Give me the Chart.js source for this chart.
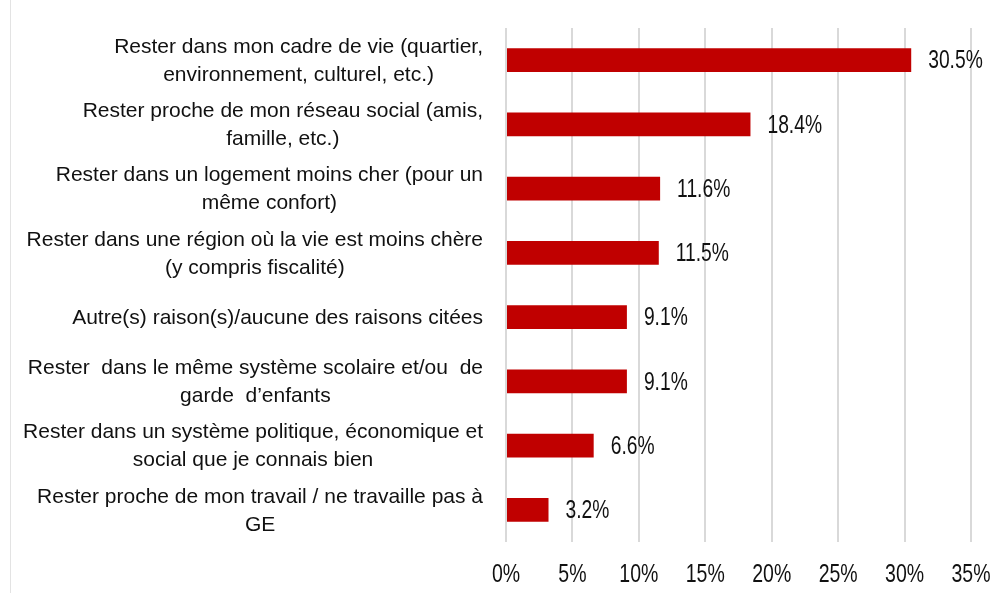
<!DOCTYPE html>
<html>
<head>
<meta charset="utf-8">
<script src="https://cdn.jsdelivr.net/npm/chart.js@4/dist/chart.umd.min.js"></script>
<style>
  body { margin: 0; background: #fff; }
  #wrap { position: relative; width: 995px; height: 593px; }
  #edge { position: absolute; left: 10px; top: 0; width: 1px; height: 593px; background: #e3e3e3; }
</style>
</head>
<body>
<div id="wrap">
  <div id="edge"></div>
  <canvas id="chart1" width="995" height="593"></canvas>
</div>
<script>
// raisons (une ligne par élément du tableau)
const categories = [
    ['Rester dans mon cadre de vie (quartier,', 'environnement, culturel, etc.)'],
    ['Rester proche de mon réseau social (amis,', 'famille, etc.)'],
    ['Rester dans un logement moins cher (pour un', 'même confort)'],
    ['Rester dans une région où la vie est moins chère', '(y compris fiscalité)'],
    ['Autre(s) raison(s)/aucune des raisons citées'],
    ['Rester  dans le même système scolaire et/ou  de', 'garde  d’enfants'],
    ['Rester dans un système politique, économique et', 'social que je connais bien'],
    ['Rester proche de mon travail / ne travaille pas à', 'GE']
];
const values = [30.5, 18.4, 11.6, 11.5, 9.1, 9.1, 6.6, 3.2];
const valueLabels = ['30.5%', '18.4%', '11.6%', '11.5%', '9.1%', '9.1%', '6.6%', '3.2%'];
const xTicks = [0, 5, 10, 15, 20, 25, 30, 35];
const xTickLabels = ['0%', '5%', '10%', '15%', '20%', '25%', '30%', '35%'];

const FONT = '"Liberation Sans", Arial, sans-serif';

// dessine les libellés, les valeurs et les graduations
const textPlugin = {
    id: 'texts',
    afterDraw(chart) {
        const ctx = chart.ctx;
        const yScale = chart.scales.y;
        const xScale = chart.scales.x;
        ctx.save();
        ctx.fillStyle = '#111';
        ctx.textBaseline = 'middle';

        // libellés des catégories, blocs alignés à droite, lignes centrées
        ctx.font = '21px ' + FONT;
        ctx.textAlign = 'center';
        categories.forEach((lines, i) => {
            const yc = yScale.getPixelForValue(i);
            const w = Math.max(...lines.map(l => ctx.measureText(l).width));
            const cx = 483 - w / 2;
            lines.forEach((l, j) => {
                ctx.fillText(l, cx, yc + (j - (lines.length - 1) / 2) * 28 + 1);
            });
        });

        // valeurs au bout des barres
        ctx.font = '26px ' + FONT;
        ctx.textAlign = 'left';
        const meta = chart.getDatasetMeta(0);
        meta.data.forEach((bar, i) => {
            ctx.save();
            ctx.translate(bar.x + 17, bar.y + 1);
            ctx.scale(0.74, 1);
            ctx.fillText(valueLabels[i], 0, 0);
            ctx.restore();
        });

        // graduations de l'axe x
        ctx.textAlign = 'center';
        xTicks.forEach((v, i) => {
            ctx.save();
            ctx.translate(xScale.getPixelForValue(v), 575);
            ctx.scale(0.75, 1);
            ctx.fillText(xTickLabels[i], 0, 0);
            ctx.restore();
        });
        ctx.restore();
    }
};

const ctx = document.querySelector('#chart1').getContext('2d');
const chart = new Chart(ctx, {
    type: 'bar',
    data: {
        labels: categories,
        datasets: [{
            data: values,
            backgroundColor: '#C00000',
            barPercentage: 0.366,
            categoryPercentage: 1
        }]
    },
    options: {
        indexAxis: 'y',
        responsive: false,
        animation: false,
        layout: { padding: { left: 506, right: 24, top: 28, bottom: 51 } },
        plugins: {
            legend: { display: false },
            tooltip: { enabled: false }
        },
        scales: {
            x: {
                min: 0,
                max: 35,
                afterBuildTicks: (scale) => {
                    scale.ticks = xTicks.map(v => ({ value: v }));
                },
                grid: { color: '#d9d9d9', lineWidth: 2, drawTicks: false },
                border: { display: false },
                ticks: { display: false }
            },
            y: {
                display: false
            }
        }
    },
    plugins: [textPlugin]
});
</script>
</body>
</html>
